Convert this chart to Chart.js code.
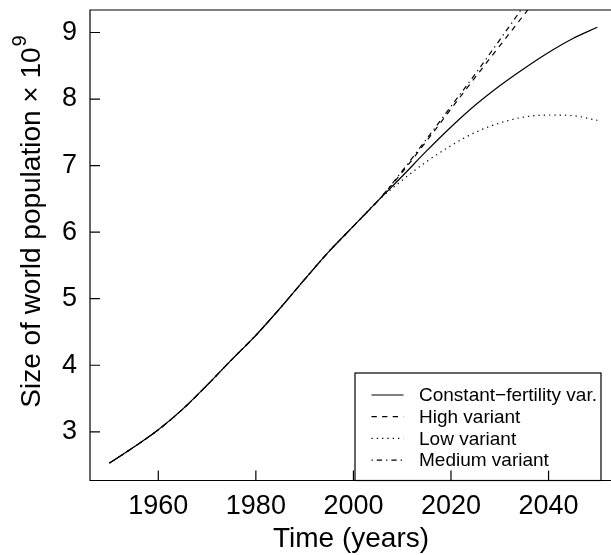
<!DOCTYPE html>
<html><head><meta charset="utf-8">
<script src="https://cdn.jsdelivr.net/npm/chart.js@4/dist/chart.umd.min.js"></script>
<style>html,body{margin:0;padding:0;background:#fff;overflow:hidden}#wrap{width:611px;height:555px;position:relative}</style>
</head><body><div id="wrap"><canvas id="c" width="611" height="555"></canvas></div>
<script>
// ---- data (billions) ----
const years = [1950,1955,1960,1965,1970,1975,1980,1985,1990,1995,2000,2005,2010,2015,2020,2025,2030,2035,2040,2045,2050];
const constantFertility = [2.53,2.77,3.03,3.34,3.70,4.08,4.45,4.86,5.29,5.71,6.09,6.47,6.84,7.22,7.58,7.91,8.20,8.46,8.70,8.91,9.08];
const highVariant       = [2.53,2.77,3.03,3.34,3.70,4.08,4.45,4.86,5.29,5.71,6.09,6.47,6.90,7.37,7.85,8.33,8.80,9.27,9.75,10.23,10.70];
const lowVariant        = [2.53,2.77,3.03,3.34,3.70,4.08,4.45,4.86,5.29,5.71,6.09,6.47,6.78,7.06,7.30,7.50,7.64,7.73,7.76,7.75,7.68];
const mediumVariant     = [2.53,2.77,3.03,3.34,3.70,4.08,4.45,4.86,5.29,5.71,6.09,6.47,6.92,7.40,7.89,8.38,8.89,9.41,9.96,10.50,11.10];
const seriesNames = ["Constant\u2212fertility var.","High variant","Low variant","Medium variant"];
const xTicks = [1960,1980,2000,2020,2040];
const yTicks = [3,4,5,6,7,8,9];
const xTitle = "Time (years)";
const yTitle = "Size of world population \u00D7 10";
const yTitleSup = "9";

const FONT = '"Liberation Sans", Arial, Helvetica, sans-serif';
const dashes = [[], [5.3,5.3], [1.3,4], [1.3,4,5.3,4]];
const seriesVals = [constantFertility, highVariant, lowVariant, mediumVariant];

const datasets = seriesVals.map((vals,i)=>({
  label: seriesNames[i],
  data: years.map((y,j)=>({x:y, y:vals[j]})),
  borderColor:'#000', borderWidth:1.2, borderDash:dashes[i],
  pointRadius:0, fill:false, cubicInterpolationMode:'monotone'
}));

const decor = {
  id:'decor',
  afterDraw(chart){
    const ctx = chart.ctx, a = chart.chartArea;
    const xs = chart.scales.x, ys = chart.scales.y;
    ctx.save();
    ctx.strokeStyle='#000'; ctx.lineWidth=1.2; ctx.setLineDash([]);
    // box (left, top, bottom)
    ctx.beginPath();
    ctx.moveTo(a.right+5, a.top); ctx.lineTo(a.left, a.top); ctx.lineTo(a.left, a.bottom); ctx.lineTo(a.right+5, a.bottom);
    ctx.stroke();
    // inward ticks
    ctx.beginPath();
    xTicks.forEach(v=>{const px=xs.getPixelForValue(v); ctx.moveTo(px,a.bottom); ctx.lineTo(px,a.bottom-10);});
    yTicks.forEach(v=>{const py=ys.getPixelForValue(v); ctx.moveTo(a.left,py); ctx.lineTo(a.left+10,py);});
    ctx.stroke();
    // legend (transparent background)
    const L={left:355,right:601,top:373,bottom:a.bottom};
    ctx.lineWidth=1.2;
    ctx.strokeRect(L.left,L.top,L.right-L.left,L.bottom-L.top);
    ctx.font='19px '+FONT; ctx.fillStyle='#000'; ctx.textBaseline='middle'; ctx.textAlign='left';
    chart.data.datasets.forEach((ds,i)=>{
      const cy = 395 + i*21.7;
      ctx.setLineDash(ds.borderDash); ctx.lineWidth=1.2;
      ctx.beginPath(); ctx.moveTo(371.5,cy); ctx.lineTo(403.5,cy); ctx.stroke();
      ctx.setLineDash([]);
      ctx.fillText(ds.label, 419, cy+1);
    });
    // x title
    ctx.font='28px '+FONT; ctx.textAlign='center'; ctx.textBaseline='middle';
    ctx.fillText(xTitle, 351, 539);
    // y title with superscript
    ctx.translate(32, 222); ctx.rotate(-Math.PI/2);
    ctx.font='28px '+FONT; const w1=ctx.measureText(yTitle).width;
    ctx.font='20px '+FONT; const w2=ctx.measureText(yTitleSup).width;
    const sx=-(w1+w2)/2;
    ctx.textAlign='left';
    ctx.font='28px '+FONT; ctx.fillText(yTitle, sx, 0);
    ctx.font='20px '+FONT; ctx.fillText(yTitleSup, sx+w1+1, -12);
    ctx.restore();
  }
};

new Chart(document.getElementById('c'), {
  type:'line',
  data:{datasets},
  options:{
    responsive:false, animation:false, devicePixelRatio:1,
    layout:{padding:{top:10,right:0,left:0,bottom:0}},
    plugins:{legend:{display:false}, tooltip:{enabled:false}},
    scales:{
      x:{type:'linear', min:1946, max:2052.8,
         afterBuildTicks:s=>{s.ticks=xTicks.map(v=>({value:v}));},
         afterFit:s=>{s.height=74.5; s.paddingLeft=0; s.paddingRight=0;},
         grid:{display:false, drawTicks:false}, border:{display:false},
         ticks:{font:{family:FONT,size:27}, color:'#000', padding:10, maxRotation:0, autoSkip:false, callback:v=>String(v)}},
      y:{type:'linear', min:2.268, max:9.338,
         afterBuildTicks:s=>{s.ticks=yTicks.map(v=>({value:v}));},
         afterFit:s=>{s.width=90; s.paddingTop=0; s.paddingBottom=0;},
         grid:{display:false, drawTicks:false}, border:{display:false},
         ticks:{font:{family:FONT,size:27}, color:'#000', padding:13, autoSkip:false, callback:v=>String(v)}}
    }
  },
  plugins:[decor]
});
</script></body></html>
